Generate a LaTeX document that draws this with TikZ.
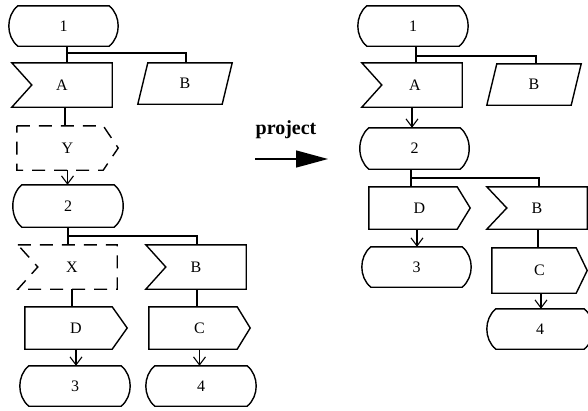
\documentclass[tikz,border=0pt]{standalone}
\usepackage{fontspec}
\setmainfont{Liberation Serif}
\usetikzlibrary{arrows.meta}

% Outline of a terminal: flat top and bottom, bulging sides
\newcommand\termshape[2][ln]{%
  \draw[#1] ([xshift=8pt]#2.north west) -- ([xshift=-8pt]#2.north east)
    .. controls ([xshift=4pt,yshift=-10pt]#2.north east) and ([xshift=4pt,yshift=10pt]#2.south east) .. ([xshift=-8pt]#2.south east)
    -- ([xshift=8pt]#2.south west)
    .. controls ([xshift=-4pt,yshift=10pt]#2.south west) and ([xshift=-4pt,yshift=-10pt]#2.north west) .. cycle;}
% Outline of a box with a notch cut into its left side
\newcommand\notchshape[2][ln]{%
  \draw[#1] (#2.north west) -- (#2.north east) -- (#2.south east) -- (#2.south west)
    -- ([xshift=20pt]#2.west) -- cycle;}
% Outline of a box with a point on its right side (depth #3)
\newcommand\pointshape[3][ln]{%
  \draw[#1] (#2.north west) -- ([xshift=-#3pt]#2.north east) -- (#2.east)
    -- ([xshift=-#3pt]#2.south east) -- (#2.south west) -- cycle;}
% Outline of a parallelogram leaning to the right
\newcommand\slantshape[2][ln]{%
  \draw[#1] ([xshift=10pt]#2.north west) -- (#2.north east) -- ([xshift=-10pt]#2.south east)
    -- (#2.south west) -- cycle;}

\begin{document}
\begin{tikzpicture}[x=1pt,y=-1pt,
  ln/.style={line width=1.4pt},
  dsh/.style={ln, dash pattern=on 13pt off 9pt},
  box/.style={inner sep=0pt, font=\fontsize{16}{19}\selectfont},
  sz/.style 2 args={minimum width=#1pt, minimum height=#2pt},
  arr/.style={ln, -{Straight Barb[length=8pt,width=12pt,line width=1.1pt]}},
  bigarr/.style={ln, -{Triangle[length=32pt,width=17pt]}}
]
\useasboundingbox (0,0) rectangle (588,410);

% ---- left chart ----
\node[box, sz={107}{40}] (L1)  at (63.5,26)  {1};
\node[box, sz={100}{44}] (LA)  at (62,85)    {A};
\node[box, sz={94}{41}]  (LB)  at (185,83.5) {B};
\node[box, sz={101}{44}] (LY)  at (67.5,148) {Y};
\node[box, sz={108}{42}] (L2)  at (68,206)   {2};
\node[box, sz={99}{44}]  (LX)  at (67.5,267) {\hspace{9pt}X};
\node[box, sz={100}{44}] (LB2) at (196,267)  {B};
\node[box, sz={102}{42}] (LD)  at (76,328)   {D};
\node[box, sz={101}{42}] (LC)  at (199.5,328){C};
\node[box, sz={108}{40}] (L3)  at (75,386)   {3};
\node[box, sz={108}{40}] (L4)  at (201,386)  {4};

\termshape{L1}
\notchshape{LA}
\slantshape{LB}
\pointshape[dsh]{LY}{15}
\termshape{L2}
\notchshape[dsh]{LX}
\notchshape{LB2}
\pointshape{LD}{15}
\pointshape{LC}{13}
\termshape{L3}
\termshape{L4}

\coordinate (lj1) at (67,53);
\draw[ln] (lj1 |- L1.south) -- (lj1 |- LA.north);
\draw[ln] (lj1) -| ([xshift=1pt]LB.north);
\draw[ln] ([xshift=3pt]LA.south) -- ([xshift=3pt]LA.south |- LY.north);
\draw[arr] (LY.south) -- (LY.south |- L2.north);
\coordinate (lj2) at (68,236);
\draw[ln] (lj2 |- L2.south) -- (lj2 |- LX.north);
\draw[ln] (lj2) -| ([xshift=1pt]LB2.north);
\draw[ln] ([xshift=4.5pt]LX.south) -- ([xshift=4.5pt]LX.south |- LD.north);
\draw[ln] ([xshift=1pt]LB2.south) -- ([xshift=1pt]LB2.south |- LC.north);
\draw[arr] (LD.south) -- (LD.south |- L3.north);
\draw[arr] (LC.south) -- (LC.south |- L4.north);

% ---- transformation arrow ----
\node[font=\bfseries\fontsize{20}{24}\selectfont, inner sep=0pt] (proj) at (286,130) {project};
\coordinate (ps) at (255,159);
\coordinate (pe) at (328,159);
\draw[bigarr] (ps) -- (pe);

% ---- right chart ----
\node[box, sz={108}{40}] (R1)  at (413,26)    {1};
\node[box, sz={100}{44}] (RA)  at (412,85)    {\hspace{6pt}A};
\node[box, sz={94}{41}]  (RB)  at (534,84.5)  {B};
\node[box, sz={107}{41}] (R2)  at (414.5,148.5){2};
\node[box, sz={101}{42}] (RD)  at (419.5,208) {D};
\node[box, sz={100}{42}] (RB2) at (537,208)   {B};
\node[box, sz={107}{40}] (R3)  at (416.5,267) {3};
\node[box, sz={95}{45}]  (RC)  at (539.5,270.5){C};
\node[box, sz={104}{40}] (R4)  at (540,329)   {4};

\termshape{R1}
\notchshape{RA}
\slantshape{RB}
\termshape{R2}
\pointshape{RD}{13}
\notchshape{RB2}
\termshape{R3}
\pointshape{RC}{11}
\termshape{R4}

\coordinate (rj1) at (416,56);
\draw[ln] (rj1 |- R1.south) -- (rj1 |- RA.north);
\draw[ln] (rj1) -| ([xshift=2pt]RB.north);
\draw[arr] (RA.south) -- (RA.south |- R2.north);
\coordinate (rj2) at (411,178);
\draw[ln] (rj2 |- R2.south) -- (rj2 |- RD.north);
\draw[ln] (rj2) -| ([xshift=2pt]RB2.north);
\draw[arr] ([xshift=-2.5pt]RD.south) -- ([xshift=-2.5pt]RD.south |- R3.north);
\draw[ln] ([xshift=1pt]RB2.south) -- ([xshift=1pt]RB2.south |- RC.north);
\draw[arr] ([xshift=1.5pt]RC.south) -- ([xshift=1.5pt]RC.south |- R4.north);
\end{tikzpicture}
\end{document}
